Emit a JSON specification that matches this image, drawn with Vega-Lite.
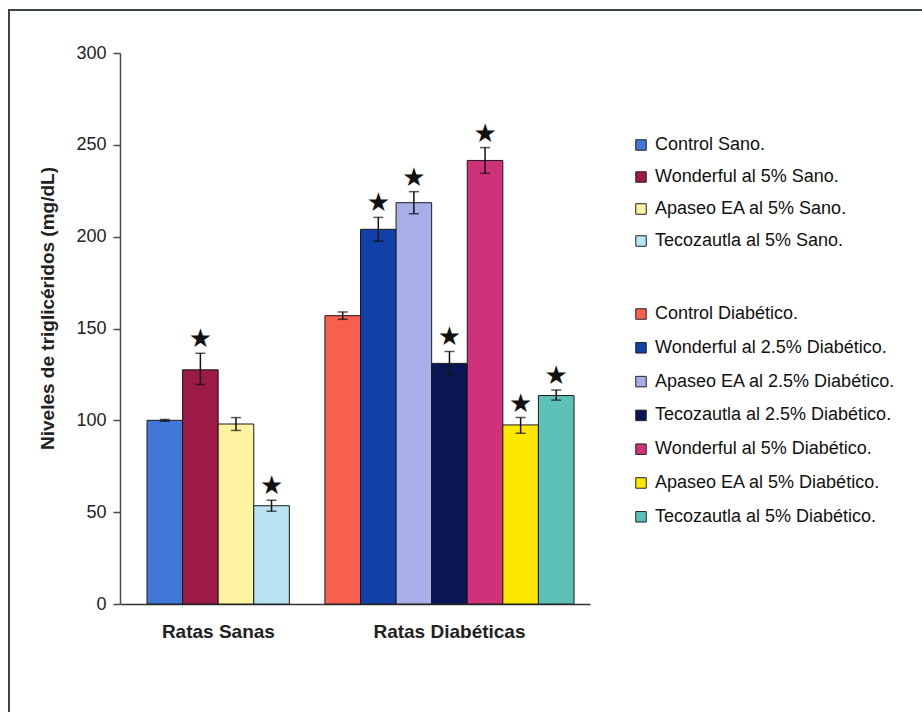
{
  "$schema": "https://vega.github.io/schema/vega-lite/v6.json",
  "width": 916,
  "height": 705,
  "autosize": {"type": "none"},
  "padding": {"left": 9, "top": 10, "right": -3, "bottom": -3},
  "background": "white",
  "view": {"stroke": "#3b4640", "strokeWidth": 2},
  "config": {
    "font": "Liberation Sans",
    "axis": {"labelFont": "Liberation Sans", "titleFont": "Liberation Sans"},
    "legend": {"labelFont": "Liberation Sans"}
  },
  "data": {
    "values": [
      {"grupo": "Sanas", "serie": "Control Sano.", "valor": 100, "lo": 99.5, "hi": 100.5, "marca": ""},
      {"grupo": "Sanas", "serie": "Wonderful al 5% Sano.", "valor": 127.5, "lo": 119.5, "hi": 136.5, "marca": "★"},
      {"grupo": "Sanas", "serie": "Apaseo EA al 5% Sano.", "valor": 98, "lo": 94.5, "hi": 101.5, "marca": ""},
      {"grupo": "Sanas", "serie": "Tecozautla al 5% Sano.", "valor": 53.5, "lo": 50.5, "hi": 56.5, "marca": "★"},
      {"grupo": "Diabeticas", "serie": "Control Diabético.", "valor": 157, "lo": 155, "hi": 159, "marca": ""},
      {"grupo": "Diabeticas", "serie": "Wonderful al 2.5% Diabético.", "valor": 204, "lo": 197.5, "hi": 210.5, "marca": "★"},
      {"grupo": "Diabeticas", "serie": "Apaseo EA al 2.5% Diabético.", "valor": 218.5, "lo": 212.5, "hi": 224.5, "marca": "★"},
      {"grupo": "Diabeticas", "serie": "Tecozautla al 2.5% Diabético.", "valor": 131, "lo": 124.5, "hi": 137.5, "marca": "★"},
      {"grupo": "Diabeticas", "serie": "Wonderful al 5% Diabético.", "valor": 241.5, "lo": 234.5, "hi": 248.5, "marca": "★"},
      {"grupo": "Diabeticas", "serie": "Apaseo EA al 5% Diabético.", "valor": 97.5, "lo": 93, "hi": 101.5, "marca": "★"},
      {"grupo": "Diabeticas", "serie": "Tecozautla al 5% Diabético.", "valor": 113.5, "lo": 111, "hi": 116.5, "marca": "★"}
    ]
  },
  "layer": [
    {
      "transform": [{"filter": "datum.grupo === 'Sanas'"}],
      "mark": {"type": "bar", "stroke": "#1a1a1a", "strokeWidth": 1},
      "encoding": {
        "x": {
          "field": "serie",
          "type": "nominal",
          "title": null,
          "scale": {
            "domain": [
              "Control Sano.", "Wonderful al 5% Sano.", "Apaseo EA al 5% Sano.", "Tecozautla al 5% Sano.",
              " ",
              "Control Diabético.", "Wonderful al 2.5% Diabético.", "Apaseo EA al 2.5% Diabético.",
              "Tecozautla al 2.5% Diabético.", "Wonderful al 5% Diabético.", "Apaseo EA al 5% Diabético.",
              "Tecozautla al 5% Diabético."
            ],
            "range": [111, 581],
            "paddingInner": 0,
            "paddingOuter": 0.6042,
            "align": 0.628,
            "round": false
          },
          "axis": {
            "orient": "bottom",
            "offset": -111,
            "ticks": false,
            "tickSize": 0,
            "domainColor": "#333333",
            "domainWidth": 1.5,
            "labelAngle": 0,
            "labelExpr": "datum.value === 'Wonderful al 5% Sano.' ? 'Ratas Sanas' : datum.value === 'Tecozautla al 2.5% Diabético.' ? 'Ratas Diabéticas' : ''",
            "labelOffset": {"condition": {"test": "datum.value === 'Wonderful al 5% Sano.'", "value": 18}, "value": 0},
            "labelFontSize": 19,
            "labelFontWeight": "bold",
            "labelColor": "#222222",
            "labelPadding": 18,
            "labelBaseline": "top",
            "labelOverlap": false,
            "labelBound": false,
            "labelLimit": 400
          }
        },
        "y": {
          "field": "valor",
          "type": "quantitative",
          "title": "Niveles de triglicéridos (mg/dL)",
          "scale": {"domain": [0, 300], "range": [594, 43], "nice": false},
          "axis": {
            "orient": "left",
            "offset": -111,
            "values": [0, 50, 100, 150, 200, 250, 300],
            "grid": false,
            "domainColor": "#4a4a4a",
            "domainWidth": 1.5,
            "tickColor": "#4a4a4a",
            "tickWidth": 1.5,
            "tickSize": 7,
            "labelFontSize": 18,
            "labelColor": "#222222",
            "labelPadding": 7,
            "titleFontSize": 19,
            "titleFontWeight": "bold",
            "titleColor": "#222222",
            "titleX": -73,
            "titleY": 298,
            "titleBaseline": "middle",
            "titleAngle": 270
          }
        },
        "color": {
          "field": "serie",
          "type": "nominal",
          "scale": {
            "domain": ["Control Sano.", "Wonderful al 5% Sano.", "Apaseo EA al 5% Sano.", "Tecozautla al 5% Sano."],
            "range": ["#4178d8", "#9c1a45", "#fdf3a0", "#b8e3f2"]
          },
          "legend": {
            "orient": "none",
            "legendX": 623,
            "legendY": 126,
            "title": null,
            "padding": 0,
            "symbolType": "square",
            "symbolSize": 110,
            "symbolStrokeColor": "#222222",
            "symbolStrokeWidth": 1,
            "symbolOpacity": 1,
            "labelFontSize": 18,
            "labelColor": "#111111",
            "labelOffset": 5,
            "labelLimit": 400,
            "rowPadding": 14
          }
        }
      }
    },
    {
      "transform": [{"filter": "datum.grupo === 'Diabeticas'"}],
      "mark": {"type": "bar", "stroke": "#1a1a1a", "strokeWidth": 1},
      "encoding": {
        "x": {"field": "serie", "type": "nominal", "title": null},
        "y": {"field": "valor", "type": "quantitative", "title": "Niveles de triglicéridos (mg/dL)"},
        "color": {
          "field": "serie",
          "type": "nominal",
          "scale": {
            "domain": [
              "Control Diabético.", "Wonderful al 2.5% Diabético.", "Apaseo EA al 2.5% Diabético.",
              "Tecozautla al 2.5% Diabético.", "Wonderful al 5% Diabético.", "Apaseo EA al 5% Diabético.",
              "Tecozautla al 5% Diabético."
            ],
            "range": ["#f7604d", "#1040a8", "#a8aee8", "#0d1655", "#cf3279", "#ffe800", "#5cc2b8"]
          },
          "legend": {
            "orient": "none",
            "legendX": 623,
            "legendY": 295,
            "title": null,
            "padding": 0,
            "symbolType": "square",
            "symbolSize": 110,
            "symbolStrokeColor": "#222222",
            "symbolStrokeWidth": 1,
            "symbolOpacity": 1,
            "labelFontSize": 18,
            "labelColor": "#111111",
            "labelOffset": 5,
            "labelLimit": 400,
            "rowPadding": 15.8
          }
        }
      }
    },
    {
      "mark": {"type": "errorbar", "color": "#111111", "thickness": 1.5, "size": 10, "ticks": true},
      "encoding": {
        "x": {"field": "serie", "type": "nominal", "title": null},
        "y": {"field": "lo", "type": "quantitative", "title": "Niveles de triglicéridos (mg/dL)"},
        "y2": {"field": "hi"}
      }
    },
    {
      "mark": {"type": "text", "font": "DejaVu Sans", "fontSize": 26, "baseline": "middle", "dy": -14, "color": "#111111"},
      "encoding": {
        "x": {"field": "serie", "type": "nominal", "title": null},
        "y": {"field": "hi", "type": "quantitative", "title": "Niveles de triglicéridos (mg/dL)"},
        "text": {"field": "marca"}
      }
    }
  ],
  "resolve": {"scale": {"color": "independent"}, "legend": {"color": "independent"}}
}
